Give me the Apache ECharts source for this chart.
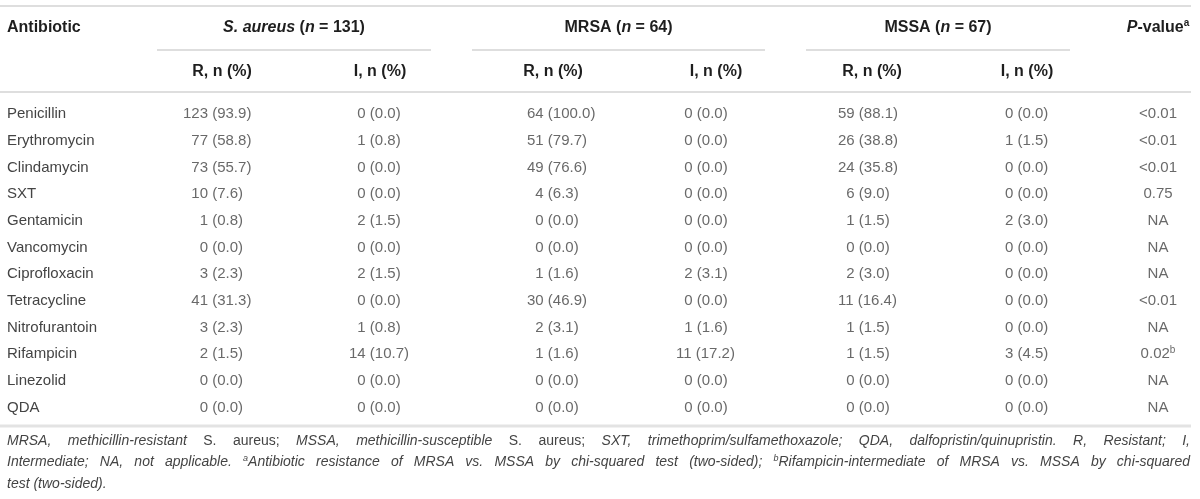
<!DOCTYPE html>
<html>
<head>
<meta charset="utf-8">
<title>S. aureus antibiotic resistance</title>
<script src="https://cdn.jsdelivr.net/npm/echarts@6/dist/echarts.min.js"></script>
<style>
html, body { margin: 0; padding: 0; background: #fff; }
#chart { width: 1200px; height: 499px; }
</style>
</head>
<body>
<div id="chart"></div>
<script>
// table values
var antibiotics = ['Penicillin', 'Erythromycin', 'Clindamycin', 'SXT', 'Gentamicin', 'Vancomycin',
  'Ciprofloxacin', 'Tetracycline', 'Nitrofurantoin', 'Rifampicin', 'Linezolid', 'QDA'];
var saR      = [123, 77, 73, 10, 1, 0, 3, 41, 3, 2, 0, 0];
var saRPct   = [93.9, 58.8, 55.7, 7.6, 0.8, 0.0, 2.3, 31.3, 2.3, 1.5, 0.0, 0.0];
var saI      = [0, 1, 0, 0, 2, 0, 2, 0, 1, 14, 0, 0];
var saIPct   = [0.0, 0.8, 0.0, 0.0, 1.5, 0.0, 1.5, 0.0, 0.8, 10.7, 0.0, 0.0];
var mrsaR    = [64, 51, 49, 4, 0, 0, 1, 30, 2, 1, 0, 0];
var mrsaRPct = [100.0, 79.7, 76.6, 6.3, 0.0, 0.0, 1.6, 46.9, 3.1, 1.6, 0.0, 0.0];
var mrsaI    = [0, 0, 0, 0, 0, 0, 2, 0, 1, 11, 0, 0];
var mrsaIPct = [0.0, 0.0, 0.0, 0.0, 0.0, 0.0, 3.1, 0.0, 1.6, 17.2, 0.0, 0.0];
var mssaR    = [59, 26, 24, 6, 1, 0, 2, 11, 1, 1, 0, 0];
var mssaRPct = [88.1, 38.8, 35.8, 9.0, 1.5, 0.0, 3.0, 16.4, 1.5, 1.5, 0.0, 0.0];
var mssaI    = [0, 1, 0, 0, 2, 0, 0, 0, 0, 3, 0, 0];
var mssaIPct = [0.0, 1.5, 0.0, 0.0, 3.0, 0.0, 0.0, 0.0, 0.0, 4.5, 0.0, 0.0];
var pValues  = ['<0.01', '<0.01', '<0.01', '0.75', 'NA', 'NA', 'NA', '<0.01', 'NA', '0.02', 'NA', 'NA'];
var pNotes   = ['', '', '', '', '', '', '', '', '', 'b', '', ''];

var groupNames = ['S. aureus', 'MRSA', 'MSSA'];
var groupN     = [131, 64, 67];
var subHeaders = ['R, n (%)', 'I, n (%)'];

var footLines = [
  'MRSA, methicillin-resistant _S. _aureus; MSSA, methicillin-susceptible _S. _aureus; SXT, trimethoprim/sulfamethoxazole; QDA, dalfopristin/quinupristin. R, Resistant; I,',
  'Intermediate; NA, not applicable. ^aAntibiotic resistance of MRSA vs. MSSA by chi-squared test (two-sided); ^bRifampicin-intermediate of MRSA vs. MSSA by chi-squared',
  'test (two-sided).'
];

// layout
var FONT = '"Liberation Sans", Arial, sans-serif';
var BODY = 15;
var HEAD = 16;
var colLeft = [183, 349, 527, 676, 838, 1005];      // left edge of each n (%) column
var headX = [222, 380, 553, 716, 872, 1027, 1158];  // centres of the sub headers
var pX = 1158;
var groupX = [[157, 431], [472, 765], [806, 1070]];
var textColor = '#444';
var headColor = '#1e1e1e';
var ruleColor = '#d3d3d3';

var ctx = document.createElement('canvas').getContext('2d');
function measure(t, font) {
  ctx.font = font;
  return ctx.measureText(t).width;
}
var digitW = measure('0', BODY + 'px ' + FONT);

function cell(n, pct) {
  return n + ' (' + pct.toFixed(1) + ')';
}

var columns = [[saR, saRPct], [saI, saIPct], [mrsaR, mrsaRPct], [mrsaI, mrsaIPct], [mssaR, mssaRPct], [mssaI, mssaIPct]];

var labelBase = {
  show: true, position: 'inside', verticalAlign: 'middle',
  color: textColor, fontFamily: FONT, fontSize: BODY
};
var hidden = { color: 'rgba(0,0,0,0)' };

var series = columns.map(function (c, k) {
  var maxDigits = Math.max.apply(null, c[0].map(function (n) { return String(n).length; }));
  return {
    type: 'scatter', symbolSize: 1, silent: true, itemStyle: hidden,
    label: Object.assign({}, labelBase, { align: 'left', formatter: function (p) { return p.value[2]; } }),
    data: antibiotics.map(function (a, i) {
      // counts line up by digit, as in the printed table
      var pad = (maxDigits - String(c[0][i]).length) * digitW;
      return [colLeft[k] + pad, a, cell(c[0][i], c[1][i])];
    })
  };
});

series.push({
  type: 'scatter', symbolSize: 1, silent: true, itemStyle: hidden,
  label: Object.assign({}, labelBase, {
    align: 'center',
    formatter: function (p) { return '{m|' + p.value[2] + '}' + (p.value[3] ? '{s|' + p.value[3] + '}' : ''); },
    rich: {
      m: { fontFamily: FONT, fontSize: BODY, color: textColor, lineHeight: 18 },
      s: { fontFamily: FONT, fontSize: 10, color: textColor, lineHeight: 10, verticalAlign: 'top' }
    }
  }),
  data: antibiotics.map(function (a, i) { return [pX, a, pValues[i], pNotes[i]]; })
});

// header graphics
var headRich = {
  b:  { fontFamily: FONT, fontWeight: 'bold', fontSize: HEAD, fill: headColor, lineHeight: 19 },
  bi: { fontFamily: FONT, fontWeight: 'bold', fontStyle: 'italic', fontSize: HEAD, fill: headColor, lineHeight: 19 },
  s:  { fontFamily: FONT, fontWeight: 'bold', fontSize: 10, fill: headColor, lineHeight: 10, verticalAlign: 'top' }
};

function hline(x1, x2, y, w, color) {
  return { type: 'line', silent: true, shape: { x1: x1, y1: y, x2: x2, y2: y }, style: { stroke: color || ruleColor, lineWidth: w || 1.5 } };
}

function headText(x, y, text, align) {
  return { type: 'text', x: x, y: y, silent: true,
    style: { text: text, rich: headRich, align: align || 'center', verticalAlign: 'middle', fill: headColor } };
}

var graphics = [hline(0, 1191, 6), hline(0, 1191, 92), hline(0, 1191, 426, 3, '#e3e3e3')];
graphics.push(headText(7, 28, '{b|Antibiotic}', 'left'));
groupNames.forEach(function (g, k) {
  var name = k === 0 ? '{bi|' + g + '}' : '{b|' + g + '}';
  graphics.push(headText((groupX[k][0] + groupX[k][1]) / 2, 28, name + '{b| (}{bi|n}{b| = ' + groupN[k] + ')}'));
  graphics.push(hline(groupX[k][0], groupX[k][1], 50));
  subHeaders.forEach(function (s, j) {
    graphics.push(headText(headX[k * 2 + j], 72, '{b|' + s + '}'));
  });
});
graphics.push(headText(headX[6], 28, '{bi|P}{b|-value}{s|a}'));

// footnote, justified like the journal layout
var FOOT = 14;
var footRich = {
  it:  { fontFamily: FONT, fontStyle: 'italic', fontSize: FOOT, fill: textColor, lineHeight: 18 },
  up:  { fontFamily: FONT, fontSize: FOOT, fill: textColor, lineHeight: 18 },
  sup: { fontFamily: FONT, fontStyle: 'italic', fontSize: 9, fill: textColor, lineHeight: 9, verticalAlign: 'top' }
};
function footWidth(t, style) {
  var st = footRich[style];
  return measure(t, (st.fontStyle || 'normal') + ' ' + st.fontSize + 'px ' + st.fontFamily);
}
function parseWord(w) {
  var parts = [];
  if (w.charAt(0) === '^') { parts.push({ t: w.charAt(1), s: 'sup' }); w = w.slice(2); }
  if (w.charAt(0) === '_') parts.push({ t: w.slice(1), s: 'up' });
  else parts.push({ t: w, s: 'it' });
  return parts;
}
var footLeft = 7, footRight = 1190, footY = [441, 462.5, 484];
footLines.forEach(function (line, li) {
  var words = line.split(' ').map(function (w) {
    var width = 0, text = '';
    parseWord(w).forEach(function (p) { width += footWidth(p.t, p.s); text += '{' + p.s + '|' + p.t + '}'; });
    return { text: text, width: width };
  });
  var total = words.reduce(function (a, w) { return a + w.width; }, 0);
  var justify = li < footLines.length - 1;
  var gap = justify ? (footRight - footLeft - total) / (words.length - 1) : footWidth(' ', 'it');
  var x = footLeft;
  words.forEach(function (w) {
    graphics.push({ type: 'text', x: x, y: footY[li], silent: true,
      style: { text: w.text, rich: footRich, align: 'left', verticalAlign: 'middle', fill: textColor } });
    x += w.width + gap;
  });
});

var myChart = echarts.init(document.getElementById('chart'));
var option = {
  animation: false,
  backgroundColor: '#fff',
  grid: { left: 0, right: 0, top: 101, height: 320 },
  xAxis: { type: 'value', min: 0, max: 1200, show: false },
  yAxis: {
    type: 'category', data: antibiotics, inverse: true,
    axisLine: { show: false }, axisTick: { show: false }, splitLine: { show: false },
    axisLabel: { inside: true, margin: 7, color: textColor, fontFamily: FONT, fontSize: BODY }
  },
  series: series,
  graphic: graphics
};
myChart.setOption(option);
</script>
</body>
</html>
